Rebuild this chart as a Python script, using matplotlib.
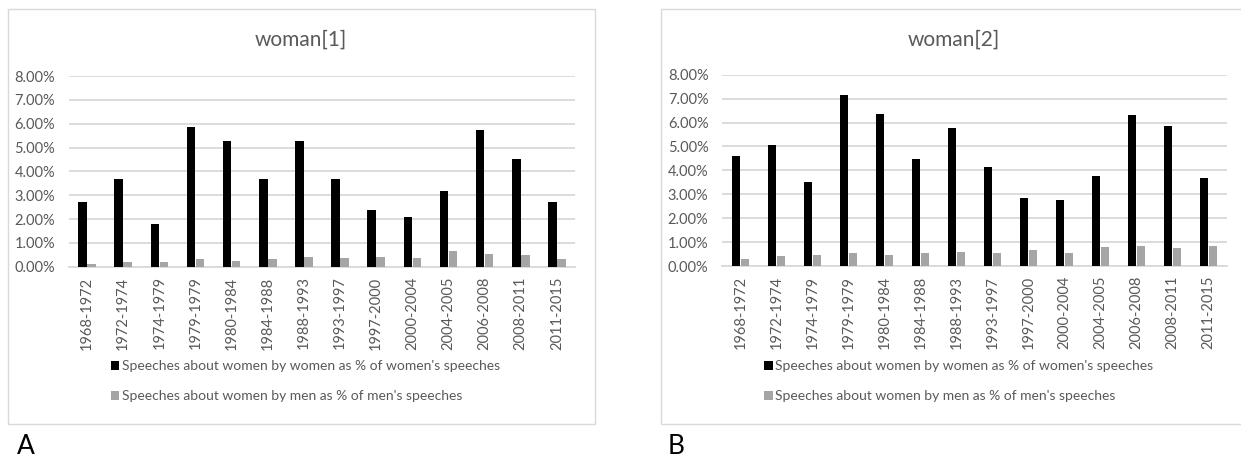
import matplotlib
matplotlib.use("Agg")
import matplotlib.pyplot as plt
from matplotlib.patches import Rectangle
from matplotlib.ticker import PercentFormatter
import numpy as np

plt.rcParams['font.family'] = ['Lato', 'DejaVu Sans']

periods = ["1968-1972", "1972-1974", "1974-1979", "1979-1979", "1980-1984",
           "1984-1988", "1988-1993", "1993-1997", "1997-2000", "2000-2004",
           "2004-2005", "2006-2008", "2008-2011", "2011-2015"]

# share of speeches about women (in %)
women1 = [2.73, 3.67, 1.81, 5.84, 5.28, 3.67, 5.28, 3.67, 2.37, 2.07, 3.19, 5.74, 4.51, 2.73]
men1 = [0.10, 0.18, 0.18, 0.31, 0.25, 0.31, 0.41, 0.38, 0.41, 0.38, 0.65, 0.52, 0.49, 0.34]
women2 = [4.62, 5.08, 3.50, 7.14, 6.35, 4.49, 5.77, 4.15, 2.83, 2.77, 3.75, 6.30, 5.84, 3.69]
men2 = [0.29, 0.42, 0.46, 0.56, 0.46, 0.56, 0.59, 0.56, 0.68, 0.56, 0.78, 0.82, 0.75, 0.82]

titles = ["woman[1]", "woman[2]"]
panel_letters = ["A", "B"]
series_labels = ["Speeches about women by women as % of women's speeches",
                 "Speeches about women by men as % of men's speeches"]

W, H = 1241, 457
TXT = "#595959"
GRID = "#d9d9d9"
BLACK = "#000000"
GREY = "#a5a5a5"

fig = plt.figure(figsize=(W / 100, H / 100), dpi=100)


def fx(px):
    return px / W


def fy(py):
    return 1 - py / H


# panel layout in pixel units: frame box, plot box (left, right, y of 0%, y of 8%)
panels = [
    dict(frame=(7.5, 9, 595, 424), plot=(69, 575, 266.7, 76), letter_x=17,
         data=(women1, men1)),
    dict(frame=(660.7, 9, 1246, 424), plot=(722.3, 1226.7, 266, 74.7), letter_x=668,
         data=(women2, men2)),
]

x = np.arange(len(periods))
bw = 0.235

for i, p in enumerate(panels):
    fl, ft, fr, fb = p["frame"]
    fig.patches.append(Rectangle((fx(fl), fy(fb)), fx(fr - fl), (fb - ft) / H,
                                 transform=fig.transFigure, fill=False,
                                 edgecolor=GRID, linewidth=1.0, zorder=0))
    l, r, y0, y8 = p["plot"]
    ax = fig.add_axes([fx(l), fy(y0), fx(r - l), (y0 - y8) / H])
    w, m = p["data"]
    b1 = ax.bar(x - 0.125, w, width=bw, color=BLACK, zorder=3, label=series_labels[0])
    b2 = ax.bar(x + 0.125, m, width=bw, color=GREY, zorder=3, label=series_labels[1])
    ax.set_xlim(-0.5, len(periods) - 0.5)
    ax.set_ylim(0, 8)
    ax.set_yticks(np.arange(0, 9, 1))
    ax.yaxis.set_major_formatter(PercentFormatter(decimals=2))
    ax.grid(axis="y", color=GRID, linewidth=1.3, zorder=0)
    for s in ["left", "right", "top"]:
        ax.spines[s].set_visible(False)
    ax.spines["bottom"].set_color(GRID)
    ax.spines["bottom"].set_linewidth(1.3)
    ax.set_xticks(x)
    ax.set_xticklabels(periods, rotation=90, fontsize=10.5, color=TXT)
    ax.tick_params(axis="x", length=0, pad=7)
    ax.tick_params(axis="y", length=0, pad=10, labelsize=10.5, labelcolor=TXT)
    ax.set_facecolor("none")

    cx = (fl + fr) / 2
    fig.text(fx(cx), fy(40), titles[i], ha="center", va="center",
             fontsize=15, color=TXT)
    fig.text(fx(p["letter_x"]), fy(446), panel_letters[i], ha="left", va="center",
             fontsize=19, color=BLACK)

    fig.legend(handles=[b1, b2], loc="upper left",
               bbox_to_anchor=(fx(l + 42), fy(360)), frameon=False,
               fontsize=10, labelcolor=TXT, handlelength=0.6, handleheight=0.6,
               handletextpad=0.2, labelspacing=1.3, borderpad=0, borderaxespad=0)

fig.savefig("out.png", dpi=100)
